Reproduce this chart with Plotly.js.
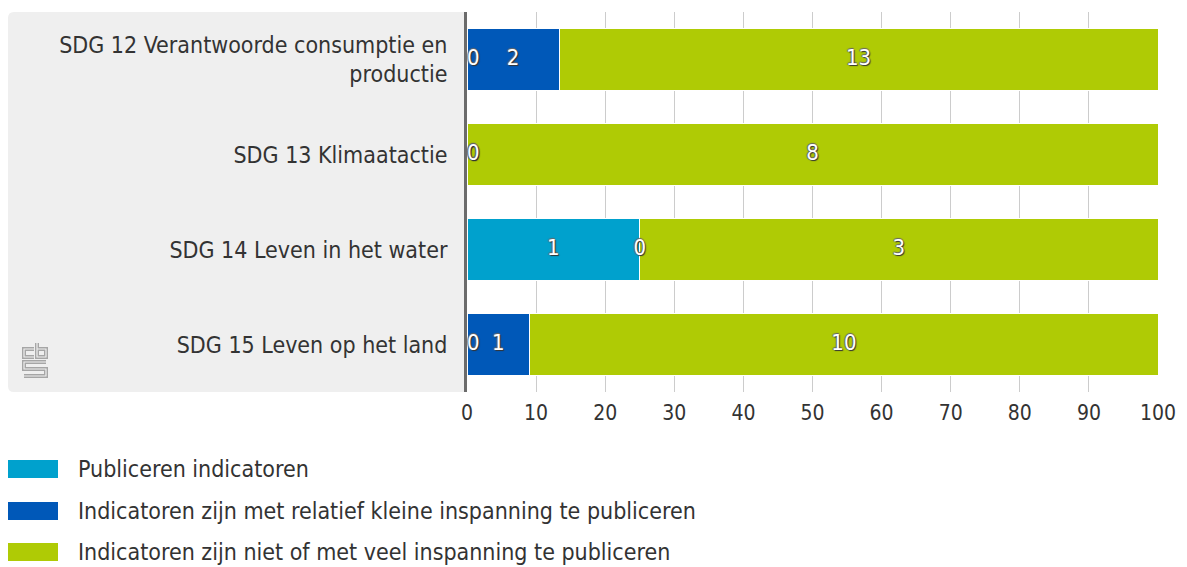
<!DOCTYPE html>
<html>
<head>
<meta charset="utf-8">
<script src="https://cdn.plot.ly/plotly-3.0.1.min.js"></script>
<style>html,body{margin:0;padding:0;background:#fff;}#chart{width:1187px;height:567px;}</style>
</head>
<body>
<div id="chart"></div>
<script>
// ---- data ----
const categories = [
  'SDG 12 Verantwoorde consumptie en<br>productie',
  'SDG 13 Klimaatactie',
  'SDG 14 Leven in het water',
  'SDG 15 Leven op het land'
];
const publiceren = [0, 0, 1, 0];
const kleineInspanning = [2, 0, 0, 1];
const veelInspanning = [13, 8, 3, 10];
const seriesNames = [
  'Publiceren indicatoren',
  'Indicatoren zijn met relatief kleine inspanning te publiceren',
  'Indicatoren zijn niet of met veel inspanning te publiceren'
];
const seriesColors = ['#00a1cd', '#0058b8', '#afcb05'];
const xTicks = [0, 10, 20, 30, 40, 50, 60, 70, 80, 90, 100];

// ---- layout geometry (pixels) ----
const W = 1187, H = 567;
const M = {l: 467, r: 29, t: 12, b: 175};
const PW = W - M.l - M.r, PH = H - M.t - M.b;
const px = x => (x - M.l) / PW;
const py = y => (H - M.b - y) / PH;

const FONT = 'DejaVu Sans Condensed, Liberation Sans, sans-serif';
const series = [publiceren, kleineInspanning, veelInspanning];
const totals = categories.map((c, j) => series.reduce((s, a) => s + a[j], 0));
const pct = series.map(a => a.map((v, j) => v / totals[j] * 100));

const traces = [];
series.forEach((a, i) => {
  traces.push({
    type: 'bar', orientation: 'h',
    y: categories, x: pct[i], name: seriesNames[i],
    marker: {color: seriesColors[i], line: {color: '#ffffff', width: 1}},
    hoverinfo: 'skip', showlegend: false
  });
});
// value labels
series.forEach((a, i) => {
  const xs = a.map((v, j) => {
    let before = 0;
    for (let k = 0; k < i; k++) before += pct[k][j];
    return before + pct[i][j] / 2;
  });
  traces.push({
    type: 'scatter', mode: 'text',
    y: categories, x: xs, text: a.map(String),
    textposition: xs.map(x => x === 0 ? 'middle right' : 'middle center'),
    textfont: {family: FONT, size: 22, color: '#ffffff',
      shadow: '1px 1px 1px #333, -1px 0px 1px #666, 0px -1px 1px #666'},
    cliponaxis: false, hoverinfo: 'skip', showlegend: false
  });
});

// background panel with rounded corners
const r = 6;
const L = 8, R = 466, T = 12, B = 392;
const panelPath =
  `M ${px(L + r)} ${py(T)} L ${px(R)} ${py(T)} L ${px(R)} ${py(B)} L ${px(L + r)} ${py(B)} ` +
  `Q ${px(L)} ${py(B)} ${px(L)} ${py(B - r)} L ${px(L)} ${py(T + r)} Q ${px(L)} ${py(T)} ${px(L + r)} ${py(T)} Z`;

const P = pts => pts.map((p, k) => (k ? 'L ' : 'M ') + px(p[0]) + ' ' + py(p[1])).join(' ');
const logoPaths = [
  P([[34, 349], [24, 349], [24, 357], [34, 357]]),
  P([[37, 343], [37, 357], [46, 357], [46, 349], [37, 349]]),
  P([[46, 362], [24, 362], [24, 369], [46, 369], [46, 376], [24, 376]])
];

const shapes = [{
  type: 'path', xref: 'paper', yref: 'paper', path: panelPath,
  fillcolor: '#efefef', line: {width: 0}, layer: 'below'
}];
logoPaths.forEach(p => shapes.push({
  type: 'path', xref: 'paper', yref: 'paper', path: p,
  line: {color: '#a6a6a6', width: 4}, layer: 'below'
}));
logoPaths.forEach(p => shapes.push({
  type: 'path', xref: 'paper', yref: 'paper', path: p,
  line: {color: '#efefef', width: 1.2}, layer: 'below'
}));
const annotations = [];
const legendY = [469, 511, 552];
seriesNames.forEach((n, i) => {
  shapes.push({
    type: 'rect', xref: 'paper', yref: 'paper',
    x0: px(8), x1: px(58), y0: py(legendY[i] - 9), y1: py(legendY[i] + 9),
    fillcolor: seriesColors[i], line: {width: 0}
  });
  annotations.push({
    xref: 'paper', yref: 'paper', x: px(76), y: py(legendY[i]),
    xanchor: 'left', yanchor: 'middle', text: n, showarrow: false,
    font: {family: FONT, size: 23, color: '#333333'}
  });
});

const layout = {
  width: W, height: H,
  margin: M,
  paper_bgcolor: '#ffffff', plot_bgcolor: 'rgba(0,0,0,0)',
  barmode: 'stack', bargap: 0.34,
  font: {family: FONT, color: '#333333'},
  xaxis: {
    range: [0, 100], tickvals: xTicks, ticktext: xTicks.map(String),
    showgrid: true, gridcolor: '#cccccc', gridwidth: 1,
    zeroline: false, showline: false, ticks: '',
    tickfont: {family: FONT, size: 21, color: '#333333'},
    ticklabelstandoff: 6, fixedrange: true
  },
  yaxis: {
    type: 'category', autorange: 'reversed',
    showgrid: false, zeroline: false,
    showline: true, linecolor: '#6b6b6b', linewidth: 3,
    ticks: '', tickfont: {family: FONT, size: 23, color: '#333333'},
    ticklabelstandoff: 12, fixedrange: true
  },
  shapes: shapes,
  annotations: annotations,
  showlegend: false
};

Plotly.newPlot('chart', traces, layout, {displayModeBar: false, staticPlot: true});
</script>
</body>
</html>
